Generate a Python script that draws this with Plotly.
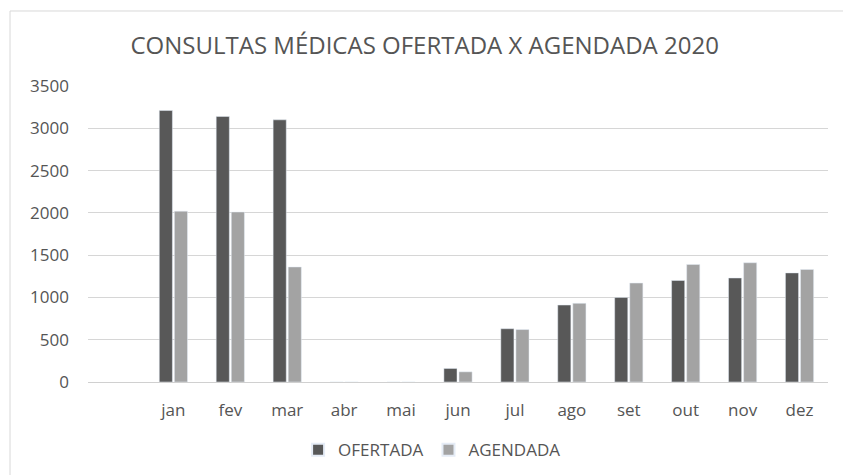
import plotly.graph_objects as go

categories = [" ", "jan", "fev", "mar", "abr", "mai", "jun", "jul", "ago", "set", "out", "nov", "dez"]
ofertada = [None, 3210, 3140, 3100, 0, 0, 160, 630, 910, 1000, 1200, 1230, 1290]
agendada = [None, 2020, 2010, 1360, 0, 0, 120, 620, 930, 1170, 1390, 1410, 1330]
y_ticks = [0, 500, 1000, 1500, 2000, 2500, 3000, 3500]

font_family = "Open Sans, Noto Sans, sans-serif"
text_color = "#555555"

fig = go.Figure()
fig.add_trace(go.Bar(name="OFERTADA", x=categories, y=ofertada, marker_color="#585858"))
fig.add_trace(go.Bar(name="AGENDADA", x=categories, y=agendada, marker_color="#a3a3a3"))

fig.update_layout(
    width=843, height=475,
    margin=dict(l=88, r=15, t=86, b=93, autoexpand=False),
    paper_bgcolor="white", plot_bgcolor="white",
    barmode="group", bargap=0.47, bargroupgap=0.13,
    title=dict(text="CONSULTAS MÉDICAS OFERTADA X AGENDADA 2020",
               x=0.455, xref="paper", xanchor="center", y=0.903, yref="container", yanchor="middle",
               font=dict(family=font_family, size=24, color=text_color)),
    font=dict(family=font_family, color=text_color),
    legend=dict(orientation="h", x=0.465, xanchor="center", y=-0.23, yanchor="middle",
                font=dict(size=17, color=text_color), itemwidth=30, itemsizing="constant",
                traceorder="normal"),
    xaxis=dict(type="category", categoryorder="array", categoryarray=categories,
               showgrid=False, showline=True, linecolor="#d0d0d0", linewidth=1,
               ticks="", tickfont=dict(size=17, color=text_color), ticklabelstandoff=13),
    yaxis=dict(range=[0, 3500], tickvals=y_ticks, showgrid=True, gridcolor="#d6d6d6",
               zeroline=False, showline=False, ticks="",
               tickfont=dict(size=17, color=text_color), ticklabelstandoff=18),
    shapes=[
        dict(type="line", xref="paper", yref="paper", x0=-0.1054, x1=1.03, y0=1.2534, y1=1.2534,
             line=dict(color="#d8d8d8", width=1)),
        dict(type="line", xref="paper", yref="paper", x0=-0.1054, x1=-0.1054, y0=-0.32, y1=1.2534,
             line=dict(color="#d8d8d8", width=1)),
    ],
)

fig.write_html("out.html", config={"displayModeBar": False},
               post_script="document.body.style.margin='0';document.body.style.padding='0';document.body.style.overflow='hidden';")
